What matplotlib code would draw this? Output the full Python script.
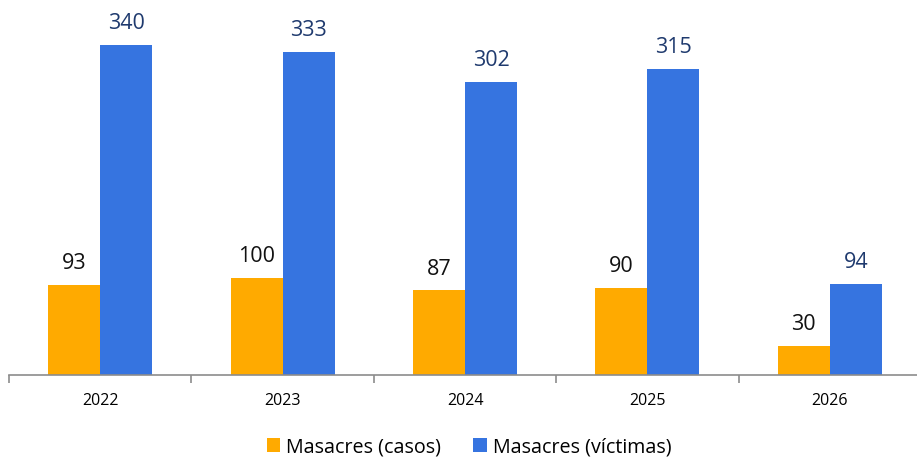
import matplotlib
matplotlib.use("Agg")
import matplotlib.pyplot as plt
import numpy as np

years = ["2022", "2023", "2024", "2025", "2026"]
casos = [93, 100, 87, 90, 30]
victimas = [340, 333, 302, 315, 94]
series_names = ["Masacres (casos)", "Masacres (víctimas)"]

plt.rcParams['font.family'] = ['Open Sans', 'DejaVu Sans']

fig = plt.figure(figsize=(9.17, 4.62), dpi=100)
ax = fig.add_axes([9/917, 87/462, 912/917, 340/462])

x = np.arange(len(years))
w = 0.285
c_orange = "#FFAA00"
c_blue = "#3674E0"
b1 = ax.bar(x - w/2, casos, w, color=c_orange, label=series_names[0])
b2 = ax.bar(x + w/2, victimas, w, color=c_blue, label=series_names[1])

for xi, v in zip(x - w/2, casos):
    ax.annotate(str(v), (xi, v), xytext=(0, 11.5), textcoords="offset points",
                ha="center", va="baseline", fontsize=15.5, color="#111111")
for xi, v in zip(x + w/2, victimas):
    ax.annotate(str(v), (xi, v), xytext=(0, 11.5), textcoords="offset points",
                ha="center", va="baseline", fontsize=15.5, color="#1F3A6E")

ax.set_xlim(-0.5, len(years) - 0.5)
ax.set_ylim(0, 350)
ax.set_xticks(x)
ax.set_xticklabels(years, fontsize=11.5)
ax.set_xticks(np.arange(-0.5, len(years)), minor=True)
ax.tick_params(axis="x", which="major", length=0, pad=13)
ax.tick_params(axis="x", which="minor", length=6, width=1.2, color="#8C8C8C", direction="out")
ax.set_yticks([])
for s in ["top", "right", "left"]:
    ax.spines[s].set_visible(False)
ax.spines["bottom"].set_color("#8C8C8C")
ax.spines["bottom"].set_linewidth(1.2)

fig.legend(handles=[b1, b2], loc="center", bbox_to_anchor=(469/917, (462-447)/462),
           ncol=2, frameon=False, fontsize=14.2, handlelength=0.7, handleheight=0.7,
           handletextpad=0.3, columnspacing=1.6)

fig.savefig("out.png", dpi=100)
